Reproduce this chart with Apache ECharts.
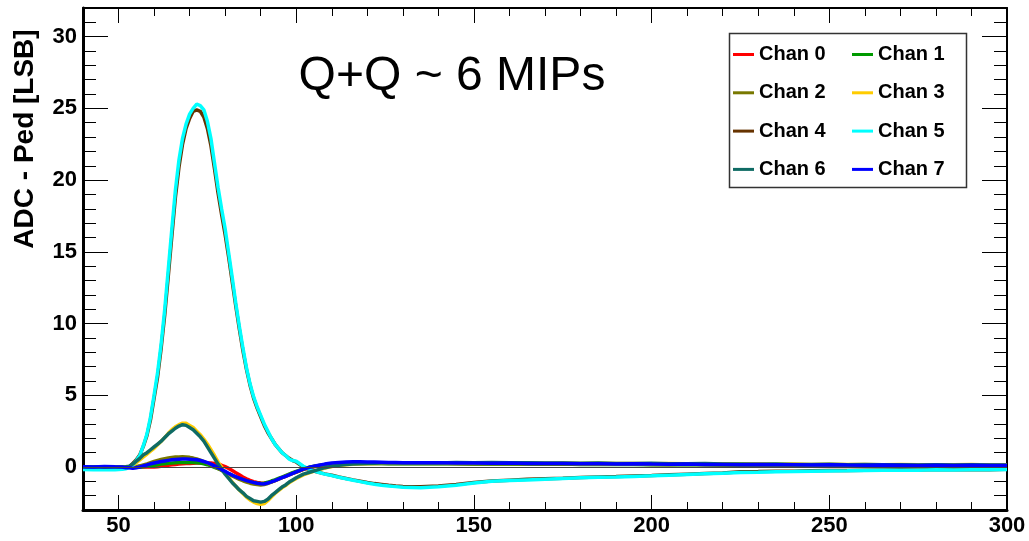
<!DOCTYPE html>
<html>
<head>
<meta charset="utf-8">
<script src="https://cdn.jsdelivr.net/npm/echarts@6/dist/echarts.min.js"></script>
<style>
  html, body { margin: 0; padding: 0; background: #fff; }
  #chart { width: 1029px; height: 541px; }
</style>
</head>
<body>
<div id="chart"></div>
<script>
// Sample positions (time bins) shared by all channels
const xs = [40, 43, 46, 49,
  51, 52, 53, 54, 55, 56, 57, 58, 59, 60,
  61, 62, 63, 64, 65, 66, 67, 68, 69, 70,
  71, 72, 73, 74, 75, 76, 77, 78, 79, 80,
  81, 82, 83, 84, 85, 86, 87, 88, 89, 90,
  91, 92, 93, 94, 95, 96, 97, 98, 99, 100,
  102, 104, 106, 108, 110, 112, 114, 116, 118, 120, 122, 124, 126, 128, 130,
  135, 140, 145, 150, 155, 160, 165, 170, 175, 180, 185, 190, 195, 200,
  205, 210, 215, 220, 225, 230, 235, 240, 245, 250, 255, 260, 265, 270,
  275, 280, 285, 290, 295, 300];

// ADC - pedestal per channel, one value per entry of xs
const chan0 = [0.0, 0.01, -0.01, 0.0,
  0.0, 0.0, -0.02, -0.03, -0.02, 0.0, 0.0, 0.01, 0.0, 0.0,
  0.02, 0.05, 0.08, 0.12, 0.15, 0.18, 0.2, 0.22, 0.24, 0.25,
  0.26, 0.27, 0.28, 0.28, 0.28, 0.27, 0.25, 0.2, 0.12, 0.02,
  -0.1, -0.25, -0.4, -0.55, -0.7, -0.82, -0.93, -1.02, -1.08, -1.12,
  -1.13, -1.1, -1.03, -0.95, -0.85, -0.75, -0.65, -0.55, -0.45, -0.36,
  -0.17, -0.03, 0.07, 0.15, 0.21, 0.25, 0.28, 0.3, 0.3, 0.29, 0.29, 0.28, 0.28, 0.27, 0.27,
  0.26, 0.27, 0.25, 0.26, 0.24, 0.25, 0.23, 0.22, 0.23, 0.21, 0.22, 0.2, 0.21, 0.19,
  0.18, 0.2, 0.17, 0.18, 0.16, 0.17, 0.15, 0.16, 0.14, 0.15, 0.13, 0.14, 0.12, 0.14,
  0.12, 0.13, 0.11, 0.13, 0.12, 0.11];

const chan1 = [0.0, 0.0, 0.01, 0.0,
  0.0, 0.0, 0.0, 0.0, 0.0, 0.0, 0.02, 0.05, 0.08, 0.12,
  0.16, 0.2, 0.23, 0.26, 0.28, 0.3, 0.31, 0.32, 0.32, 0.32,
  0.31, 0.3, 0.27, 0.22, 0.16, 0.08, -0.02, -0.12, -0.23, -0.35,
  -0.47, -0.59, -0.7, -0.8, -0.9, -0.98, -1.05, -1.1, -1.14, -1.15,
  -1.13, -1.07, -0.98, -0.9, -0.8, -0.7, -0.6, -0.5, -0.4, -0.31,
  -0.13, 0.0, 0.08, 0.14, 0.18, 0.21, 0.23, 0.24, 0.24, 0.25, 0.24, 0.24, 0.23, 0.24, 0.23,
  0.23, 0.22, 0.23, 0.21, 0.22, 0.2, 0.21, 0.19, 0.2, 0.18, 0.19, 0.17, 0.18, 0.16,
  0.17, 0.15, 0.16, 0.14, 0.15, 0.13, 0.14, 0.12, 0.13, 0.12, 0.11, 0.12, 0.1, 0.11,
  0.1, 0.09, 0.1, 0.09, 0.1, 0.08];

const chan2 = [0.0, 0.01, 0.0, -0.01,
  0.0, 0.0, 0.0, 0.0, 0.02, 0.08, 0.15, 0.22, 0.3, 0.38,
  0.45, 0.52, 0.58, 0.62, 0.66, 0.69, 0.7, 0.71, 0.7, 0.67,
  0.62, 0.56, 0.48, 0.38, 0.27, 0.15, 0.03, -0.1, -0.23, -0.37,
  -0.5, -0.63, -0.75, -0.86, -0.96, -1.05, -1.13, -1.19, -1.23, -1.25,
  -1.22, -1.15, -1.06, -0.96, -0.85, -0.75, -0.64, -0.54, -0.44, -0.35,
  -0.16, -0.02, 0.08, 0.15, 0.2, 0.23, 0.25, 0.26, 0.26, 0.26, 0.25, 0.26, 0.25, 0.25, 0.24,
  0.25, 0.24, 0.24, 0.23, 0.24, 0.22, 0.23, 0.21, 0.22, 0.2, 0.21, 0.19, 0.2, 0.18,
  0.19, 0.17, 0.18, 0.16, 0.17, 0.15, 0.16, 0.14, 0.15, 0.13, 0.14, 0.13, 0.12, 0.13,
  0.11, 0.12, 0.11, 0.12, 0.1, 0.11];

const chan3 = [0.0, -0.02, 0.02, 0.0,
  0.0, 0.0, 0.0, 0.1, 0.3, 0.5, 0.7, 0.9, 1.1, 1.3,
  1.55, 1.8, 2.05, 2.35, 2.6, 2.8, 2.95, 3.05, 3.05, 2.9,
  2.75, 2.5, 2.25, 1.95, 1.6, 1.2, 0.8, 0.35, 0.0, -0.4,
  -0.75, -1.05, -1.35, -1.6, -1.85, -2.1, -2.3, -2.45, -2.55, -2.6,
  -2.55, -2.35, -2.1, -1.85, -1.65, -1.45, -1.3, -1.1, -0.95, -0.8,
  -0.55, -0.38, -0.22, -0.08, 0.03, 0.1, 0.16, 0.19, 0.21, 0.23, 0.25, 0.26, 0.26, 0.27, 0.27,
  0.28, 0.27, 0.29, 0.27, 0.3, 0.28, 0.27, 0.26, 0.27, 0.25, 0.26, 0.24, 0.25, 0.23,
  0.24, 0.22, 0.21, 0.23, 0.2, 0.21, 0.19, 0.2, 0.18, 0.19, 0.17, 0.18, 0.16, 0.17,
  0.15, 0.16, 0.15, 0.17, 0.14, 0.16];

const chan4 = [-0.12, -0.15, -0.1, -0.13,
  -0.1, -0.08, 0.0, 0.25, 0.5, 0.85, 1.45, 2.2, 3.3, 4.8,
  6.3, 8.3, 10.6, 13.3, 16.1, 18.8, 20.9, 22.5, 23.6, 24.3,
  24.8, 24.9, 24.8, 24.4, 23.6, 22.4, 20.8, 19.1, 17.6, 16.2,
  14.6, 12.9, 11.2, 9.6, 8.1, 6.8, 5.7, 4.8, 4.1, 3.5,
  2.9, 2.4, 2.0, 1.6, 1.3, 1.0, 0.8, 0.6, 0.45, 0.35,
  0.0, -0.22, -0.36, -0.48, -0.58, -0.7, -0.8, -0.9, -0.99, -1.08, -1.16, -1.22, -1.28, -1.33, -1.36,
  -1.38, -1.32, -1.22, -1.08, -0.98, -0.92, -0.86, -0.82, -0.78, -0.73, -0.7, -0.67, -0.63, -0.6,
  -0.55, -0.5, -0.46, -0.42, -0.33, -0.32, -0.3, -0.29, -0.27, -0.25, -0.24, -0.22, -0.21, -0.2,
  -0.21, -0.18, -0.2, -0.17, -0.19, -0.16];

const chan5 = [-0.18, -0.2, -0.17, -0.19,
  -0.16, -0.12, -0.05, 0.15, 0.45, 0.8, 1.5, 2.3, 3.5, 5.0,
  6.6, 8.6, 11.0, 13.8, 16.6, 19.3, 21.4, 22.9, 23.9, 24.6,
  25.0, 25.3, 25.2, 24.9, 24.1, 22.9, 21.2, 19.5, 18.0, 16.6,
  14.9, 13.2, 11.4, 9.8, 8.3, 6.9, 5.8, 4.9, 4.2, 3.6,
  3.0, 2.5, 2.0, 1.6, 1.3, 1.0, 0.8, 0.55, 0.45, 0.4,
  0.05, -0.2, -0.35, -0.5, -0.6, -0.72, -0.82, -0.92, -1.02, -1.12, -1.2, -1.27, -1.32, -1.37, -1.42,
  -1.45, -1.38, -1.27, -1.12, -1.0, -0.95, -0.9, -0.85, -0.8, -0.76, -0.72, -0.7, -0.66, -0.62,
  -0.57, -0.52, -0.48, -0.44, -0.38, -0.36, -0.33, -0.32, -0.3, -0.28, -0.27, -0.24, -0.23, -0.22,
  -0.22, -0.2, -0.21, -0.19, -0.2, -0.18];

const chan6 = [0.0, 0.02, -0.02, 0.0,
  0.0, 0.02, 0.05, 0.2, 0.4, 0.6, 0.85, 1.0, 1.2, 1.4,
  1.6, 1.8, 2.05, 2.3, 2.5, 2.7, 2.85, 2.95, 2.9, 2.75,
  2.6, 2.35, 2.1, 1.8, 1.4, 1.0, 0.6, 0.2, -0.15, -0.5,
  -0.8, -1.1, -1.35, -1.6, -1.8, -2.05, -2.2, -2.35, -2.4, -2.45,
  -2.4, -2.25, -2.0, -1.8, -1.6, -1.4, -1.25, -1.05, -0.9, -0.75,
  -0.5, -0.35, -0.2, -0.05, 0.05, 0.12, 0.18, 0.2, 0.22, 0.25, 0.26, 0.28, 0.27, 0.29, 0.28,
  0.3, 0.28, 0.31, 0.3, 0.32, 0.29, 0.3, 0.27, 0.28, 0.26, 0.27, 0.25, 0.24, 0.26,
  0.23, 0.22, 0.24, 0.2, 0.21, 0.19, 0.2, 0.18, 0.17, 0.19, 0.16, 0.17, 0.15, 0.16,
  0.14, 0.15, 0.13, 0.15, 0.14, 0.13];

const chan7 = [0.02, 0.0, 0.03, 0.01,
  0.0, -0.05, -0.05, -0.1, -0.05, 0.0, 0.08, 0.15, 0.22, 0.28,
  0.33, 0.38, 0.42, 0.46, 0.5, 0.52, 0.54, 0.55, 0.55, 0.54,
  0.52, 0.5, 0.45, 0.38, 0.3, 0.2, 0.08, -0.05, -0.18, -0.3,
  -0.45, -0.57, -0.68, -0.78, -0.87, -0.95, -1.02, -1.08, -1.13, -1.17,
  -1.18, -1.12, -1.04, -0.95, -0.85, -0.75, -0.65, -0.55, -0.45, -0.35,
  -0.15, 0.0, 0.1, 0.2, 0.27, 0.32, 0.35, 0.37, 0.36, 0.35, 0.34, 0.33, 0.32, 0.31, 0.3,
  0.3, 0.29, 0.27, 0.28, 0.26, 0.27, 0.25, 0.24, 0.25, 0.23, 0.22, 0.21, 0.22, 0.2,
  0.19, 0.2, 0.18, 0.17, 0.16, 0.18, 0.15, 0.16, 0.14, 0.15, 0.13, 0.12, 0.13, 0.12,
  0.11, 0.12, 0.1, 0.12, 0.11, 0.1];

const channelNames = ['Chan 0', 'Chan 1', 'Chan 2', 'Chan 3', 'Chan 4', 'Chan 5', 'Chan 6', 'Chan 7'];
const channelColors = ['#ff0000', '#009a00', '#787800', '#ffcc00', '#663300', '#00ffff', '#0f6b64', '#0000ff'];
const channelData = [chan0, chan1, chan2, chan3, chan4, chan5, chan6, chan7];

// Axis tick positions
const xMajor = [50, 100, 150, 200, 250, 300];
const xMinor = [40, 60, 70, 80, 90, 110, 120, 130, 140, 160, 170, 180, 190, 210, 220, 230, 240, 260, 270, 280, 290];
const yMajor = [0, 5, 10, 15, 20, 25, 30];
const yMinor = [-2, -1, 1, 2, 3, 4, 6, 7, 8, 9, 11, 12, 13, 14, 16, 17, 18, 19, 21, 22, 23, 24, 26, 27, 28, 29, 31];

const FONT = '"Liberation Sans", Arial, Helvetica, sans-serif';
const X_MIN = 40, X_MAX = 300, Y_MIN = -3, Y_MAX = 32;

function xAxisDef(position, ticks, len, lineWidth, withLabels) {
  return {
    type: 'value', position: position, min: X_MIN, max: X_MAX,
    axisLine: { show: lineWidth > 0, onZero: false, lineStyle: { color: '#000', width: lineWidth } },
    axisTick: { show: true, inside: true, length: len, customValues: ticks, lineStyle: { color: '#000', width: 1 } },
    axisLabel: withLabels
      ? { show: true, customValues: ticks, margin: 5, color: '#000', fontFamily: FONT, fontWeight: 'bold', fontSize: 22 }
      : { show: false },
    splitLine: { show: false }
  };
}

function yAxisDef(position, ticks, len, lineWidth, withLabels) {
  return {
    type: 'value', position: position, min: Y_MIN, max: Y_MAX,
    axisLine: { show: lineWidth > 0, onZero: false, lineStyle: { color: '#000', width: lineWidth } },
    axisTick: { show: true, inside: true, length: len, customValues: ticks, lineStyle: { color: '#000', width: 1 } },
    axisLabel: withLabels
      ? { show: true, customValues: ticks, margin: 6, color: '#000', fontFamily: FONT, fontWeight: 'bold', fontSize: 22 }
      : { show: false },
    splitLine: { show: false }
  };
}

const series = channelNames.map(function (name, i) {
  const s = {
    name: name,
    type: 'line',
    xAxisIndex: 0,
    yAxisIndex: 0,
    showSymbol: false,
    symbol: 'none',
    data: xs.map(function (x, k) { return [x, channelData[i][k]]; }),
    lineStyle: { color: channelColors[i], width: 3.5 },
    itemStyle: { color: channelColors[i] },
    animation: false
  };
  if (i === 0) {
    s.markLine = {
      silent: true, symbol: 'none', animation: false,
      label: { show: false },
      lineStyle: { color: '#444', width: 1, type: 'solid' },
      data: [{ yAxis: 0 }]
    };
  }
  return s;
});

const legendCommon = {
  orient: 'vertical', padding: 0, itemGap: 18.3, icon: 'rect',
  itemWidth: 21, itemHeight: 3, selectedMode: false,
  textStyle: { fontFamily: FONT, fontWeight: 'bold', fontSize: 20, lineHeight: 20, color: '#000' }
};

const chart = echarts.init(document.getElementById('chart'), null, { renderer: 'canvas' });
chart.setOption({
  backgroundColor: '#fff',
  animation: false,
  grid: { left: 83, right: 22, top: 8, bottom: 31, containLabel: false },
  xAxis: [
    xAxisDef('bottom', xMajor, 15, 3, true),
    xAxisDef('bottom', xMinor, 8, 0, false),
    xAxisDef('top', xMajor, 15, 2, false),
    xAxisDef('top', xMinor, 8, 0, false)
  ],
  yAxis: [
    yAxisDef('left', yMajor, 25, 3, true),
    yAxisDef('left', yMinor, 13, 0, false),
    yAxisDef('right', yMajor, 25, 2, false),
    yAxisDef('right', yMinor, 13, 0, false)
  ],
  legend: [
    Object.assign({ left: 733, top: 44.5, data: ['Chan 0', 'Chan 2', 'Chan 4', 'Chan 6'] }, legendCommon),
    Object.assign({ left: 852, top: 44.5, data: ['Chan 1', 'Chan 3', 'Chan 5', 'Chan 7'] }, legendCommon)
  ],
  graphic: [
    {
      type: 'rect', silent: true, z: 10,
      shape: { x: 729.5, y: 33.5, width: 237, height: 154 },
      style: { fill: 'none', stroke: '#333', lineWidth: 1.5 }
    },
    {
      type: 'text', silent: true, z: 10,
      x: 452, y: 77,
      style: { text: 'Q+Q ~ 6 MIPs', fill: '#000', font: 'normal 48px ' + FONT, align: 'center', verticalAlign: 'middle' }
    },
    {
      type: 'text', silent: true, z: 10,
      x: 25, y: 139, rotation: Math.PI / 2,
      style: { text: 'ADC - Ped [LSB]', fill: '#000', font: 'bold 28px ' + FONT, align: 'center', verticalAlign: 'middle' }
    }
  ],
  series: series
});
</script>
</body>
</html>
